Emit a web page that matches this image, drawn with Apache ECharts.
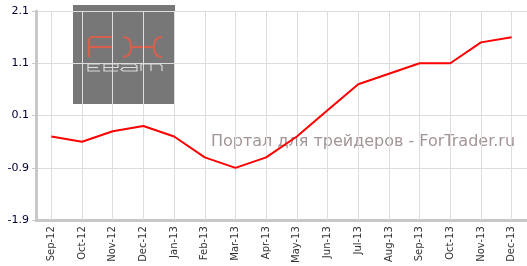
<!DOCTYPE html>
<html><head><meta charset="utf-8">
<script src="https://cdn.jsdelivr.net/npm/echarts@6/dist/echarts.min.js"></script>
<style>html,body{margin:0;padding:0;background:#fff}#c{width:527px;height:266px}</style>
</head><body><div id="c"></div>
<script>
var categories = ['Sep-12','Oct-12','Nov-12','Dec-12','Jan-13','Feb-13','Mar-13','Apr-13','May-13','Jun-13','Jul-13','Aug-13','Sep-13','Oct-13','Nov-13','Dec-13'];
var values = [-0.3,-0.4,-0.2,-0.1,-0.3,-0.7,-0.9,-0.7,-0.3,0.2,0.7,0.9,1.1,1.1,1.5,1.6];
var yTicks = [-1.9,-0.9,0.1,1.1,2.1];

var chart = echarts.init(document.getElementById('c'));
var red = '#d5604e';
var redStyle = {fill:null,stroke:red,lineWidth:2.2};
var grayStyle = {fill:null,stroke:'#dcdcdc',lineWidth:1.2};
function pl(pts, st){return {type:'polyline',z:-9,shape:{points:pts},style:st};}
function bz(x1,y1,cx,cy,x2,y2,st){return {type:'bezierCurve',z:-9,shape:{x1:x1,y1:y1,cpx1:cx,cpy1:cy,x2:x2,y2:y2},style:st};}
chart.setOption({
  animation:false,
  grid:{left:36,right:-7,top:11,bottom:44,containLabel:false},
  graphic:[
    {type:'rect',z:-10,shape:{x:73,y:5,width:102,height:99},style:{fill:'#777777'}},
    pl([[89,57],[89,40],[90,38],[92,37],[112,37]],redStyle),
    pl([[89,47],[112,47]],redStyle),
    bz(123,37,131,37,131,47,redStyle), bz(131,47,131,57,123,57,redStyle),
    pl([[131,47],[154,47]],redStyle),
    bz(162,37,154,37,154,47,redStyle), bz(154,47,154,57,162,57,redStyle),
    pl([[100,64],[88,64],[88,71],[100,71]],grayStyle), pl([[88,67.5],[98,67.5]],grayStyle),
    pl([[104,67.5],[118,67.5],[118,64],[104,64],[104,71],[118,71]],grayStyle),
    pl([[121,64],[135,64],[137,66],[137,71],[123,71],[121,69.5],[123,67.5],[137,67.5]],grayStyle),
    pl([[141,71],[141,64],[160,64],[162,66],[162,71]],grayStyle), pl([[151,64],[151,71]],grayStyle),
    {type:'text',z:-5,x:211,y:134,style:{text:'Портал для трейдеров - ForTrader.ru',font:'16px "DejaVu Sans"',fill:'#a39595'}}
  ],
  xAxis:{type:'category',data:categories,boundaryGap:true,
    axisLine:{onZero:false,lineStyle:{color:'#c8c8c8',width:3}},
    axisTick:{alignWithLabel:true,length:5,lineStyle:{color:'#c8c8c8'}},
    axisLabel:{rotate:90,fontSize:10,color:'#333',fontFamily:'"DejaVu Sans"',margin:6,interval:0},
    splitLine:{show:false}
  },
  yAxis:{type:'value',min:-1.9,max:2.1,interval:1,
    axisLine:{show:true,lineStyle:{color:'#c8c8c8',width:3}},
    axisTick:{show:true,length:4,lineStyle:{color:'#c8c8c8'}},
    axisLabel:{fontSize:11,color:'#000033',fontFamily:'"DejaVu Sans"',margin:7,
      formatter:function(v){var t=yTicks.find(function(k){return Math.abs(k-v)<1e-6});return t===undefined?'':t.toFixed(1);}},
    splitLine:{show:true,lineStyle:{color:'#dddddd',width:1}}
  },
  series:[{type:'line',data:values,showSymbol:false,symbol:'none',lineStyle:{color:'#ff0000',width:2},z:5,
    markLine:{silent:true,symbol:['none','none'],label:{show:false},z:1,
      lineStyle:{color:'#dddddd',width:1,type:'solid'},
      data:categories.map(function(c){return {xAxis:c};})}
  }]
});
</script></body></html>
